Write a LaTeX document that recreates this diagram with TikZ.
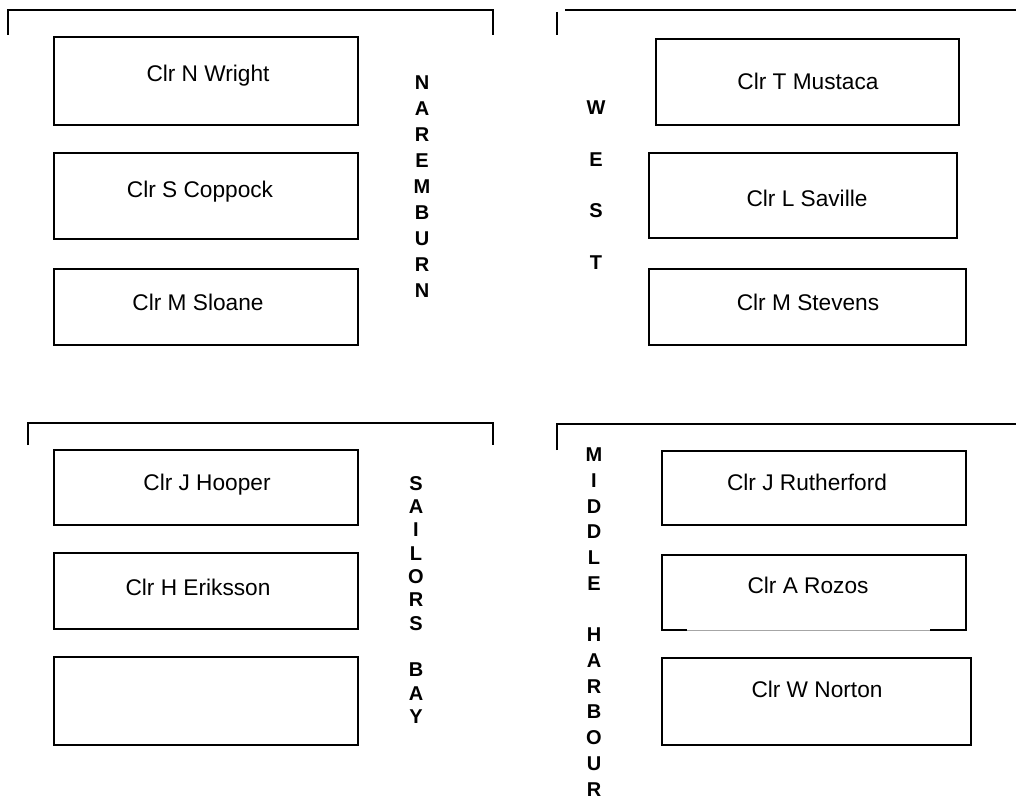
\documentclass[tikz,border=0pt]{standalone}
\usepackage{fontspec}
\setmainfont{Liberation Sans}
\begin{document}
\begin{tikzpicture}[x=0.75pt,y=-0.75pt,
  cbox/.style={draw=black, line width=1.3pt, rectangle, inner sep=0pt, outer sep=0pt},
  lbl/.style={anchor=base, inner sep=0pt, font=\fontsize{17}{19}\selectfont},
  brk/.style={line width=1.1pt, black},
  vword/.style={align=center, inner sep=0pt, font=\bfseries\fontsize{15}{#1}\selectfont}]
\useasboundingbox[fill=white] (0,0) rectangle (1016,802);

% brackets
\draw[brk] (8,35) -- (8,10) -- (493,10) -- (493,35);
\draw[brk] (557,12) -- (557,35);
\draw[brk] (565,10) -- (1016,10);
\draw[brk] (28,445) -- (28,423) -- (493,423) -- (493,445);
\draw[brk] (557,450) -- (557,424) -- (1016,424);

% Naremburn
\node[cbox, minimum width=228pt, minimum height=66pt] (b1) at (206,81) {};
\node[lbl] (t1) at (208,82) {Clr N Wright};
\node[cbox, minimum width=228pt, minimum height=64.5pt] (b2) at (206,196) {};
\node[lbl] (t2) at (200,198) {Clr S Coppock};
\node[cbox, minimum width=228pt, minimum height=57pt] (b3) at (206,307) {};
\node[lbl] (t3) at (198,310) {Clr M Sloane};
\node[vword=19.5] (w1) at (422,187) {N\\A\\R\\E\\M\\B\\U\\R\\N};

% West
\node[cbox, minimum width=227.25pt, minimum height=64.5pt] (b4) at (807.5,82) {};
\node[lbl] (t4) at (808,90) {Clr T Mustaca};
\node[cbox, minimum width=231pt, minimum height=63.75pt] (b5) at (803,195.5) {};
\node[lbl] (t5) at (807,207) {Clr L Saville};
\node[cbox, minimum width=237.75pt, minimum height=57pt] (b6) at (807.5,307) {};
\node[lbl] (t6) at (808,310) {Clr M Stevens};
\node[vword=38.8] (w2) at (596,185) {W\\E\\S\\T};

% Sailors Bay
\node[cbox, minimum width=228pt, minimum height=56.25pt] (b7) at (206,487.5) {};
\node[lbl] (t7) at (207,490) {Clr J Hooper};
\node[cbox, minimum width=228pt, minimum height=57pt] (b8) at (206,591) {};
\node[lbl] (t8) at (198,595) {Clr H Eriksson};
\node[cbox, minimum width=228pt, minimum height=66pt] (b9) at (206,701) {};
\node[vword=17.5] (w3) at (416,600) {S\\A\\I\\L\\O\\R\\S\\~\\B\\A\\Y};

% Middle Harbour
\node[cbox, minimum width=228pt, minimum height=55.5pt] (b10) at (814,488) {};
\node[lbl] (t10) at (807,490) {Clr J Rutherford};
\node[cbox, minimum width=228pt, minimum height=56.25pt] (b11) at (814,592.5) {};
\node[lbl] (t11) at (808,593) {Clr A Rozos};
\draw[white, line width=1.5pt] ([xshift=18.75pt]b11.south west) -- ([xshift=-27pt]b11.south east);
\draw[gray!70, line width=0.6pt] ([xshift=18.75pt]b11.south west) -- ([xshift=-27pt]b11.south east);
\node[cbox, minimum width=231.75pt, minimum height=65.25pt] (b12) at (816.5,701.5) {};
\node[lbl] (t12) at (817,697) {Clr W Norton};
\node[vword=19.3] (w4) at (594,622) {M\\I\\D\\D\\L\\E\\~\\H\\A\\R\\B\\O\\U\\R};
\end{tikzpicture}
\end{document}
